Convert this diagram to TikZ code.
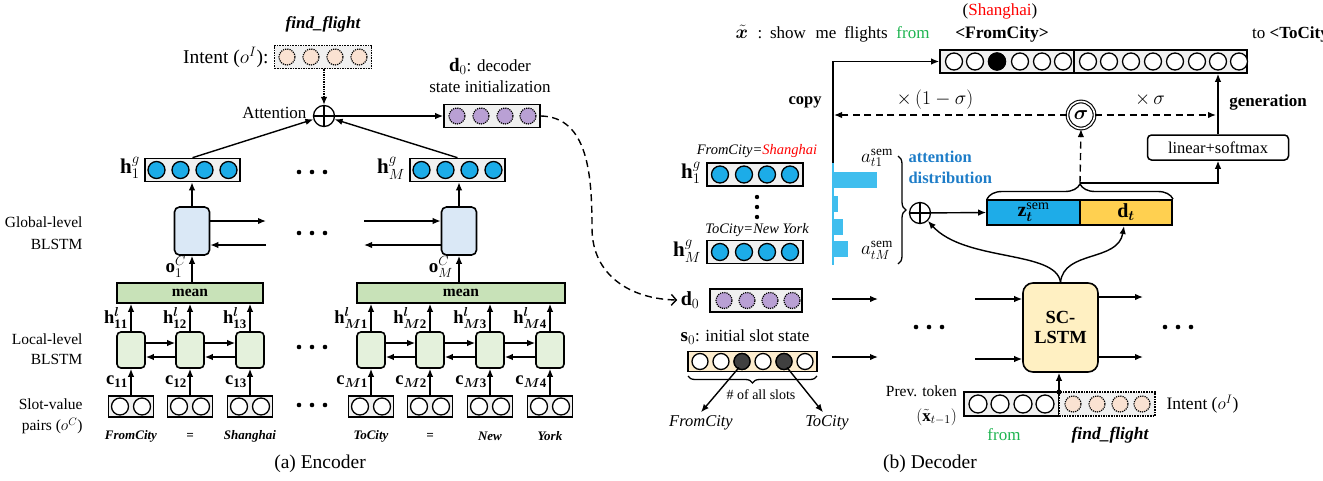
\RequirePackage{fix-cm}
\documentclass[tikz,border=0pt]{standalone}
\usepackage{fontspec}
\setmainfont{Liberation Serif}
\usepackage{amsmath,bm}
\usetikzlibrary{arrows.meta,decorations.pathreplacing,calc}
\definecolor{vecgray}{RGB}{240,240,240}
\definecolor{ballblue}{RGB}{28,172,232}
\definecolor{peach}{RGB}{250,226,210}
\definecolor{violetb}{RGB}{185,160,212}
\definecolor{globfill}{RGB}{218,232,246}
\definecolor{meanfill}{RGB}{200,226,184}
\definecolor{locfill}{RGB}{228,241,220}
\definecolor{zblue}{RGB}{30,172,232}
\definecolor{dyellow}{RGB}{255,208,80}
\definecolor{lstmfill}{RGB}{255,240,194}
\definecolor{sfill}{RGB}{252,236,205}
\definecolor{attblue}{RGB}{30,125,200}
\definecolor{barblue}{RGB}{64,190,238}
\definecolor{txtgreen}{RGB}{30,180,80}
\definecolor{darkball}{RGB}{64,64,64}
\newcommand\myfs[1]{\fontsize{#1}{#1}\selectfont}
\begin{document}
\begin{tikzpicture}[x=1pt,y=-1pt,
  vbox/.style={draw, line width=1.6pt, fill=vecgray, minimum height=23pt, inner sep=0pt},
  ballB/.style={circle, draw, line width=1.3pt, fill=ballblue, minimum size=17pt, inner sep=0pt},
  ballW/.style={circle, draw, line width=1.3pt, fill=white, minimum size=17pt, inner sep=0pt},
  ballK/.style={circle, draw, line width=1.3pt, fill=black, minimum size=17pt, inner sep=0pt},
  ballP/.style={circle, draw, densely dotted, line width=1.2pt, fill=peach, minimum size=16pt, inner sep=0pt},
  ballV/.style={circle, draw, densely dotted, line width=1.2pt, fill=violetb, minimum size=16pt, inner sep=0pt},
  arr/.style={-{Latex[length=8pt,width=6.5pt]}, line width=1.4pt},
  dsh/.style={dash pattern=on 7pt off 4.5pt},
  plusn/.style={circle, draw, line width=1.3pt, minimum size=21pt, inner sep=0pt,
    path picture={\draw[line width=1.3pt] (path picture bounding box.north) -- (path picture bounding box.south)
      (path picture bounding box.west) -- (path picture bounding box.east);}},
  gblk/.style={draw, line width=1.6pt, rounded corners=5pt, fill=globfill, minimum width=35pt, minimum height=48pt, inner sep=0pt},
  lblk/.style={draw, line width=1.6pt, rounded corners=4pt, fill=locfill, minimum width=28pt, minimum height=36pt, inner sep=0pt},
  meanb/.style={draw, line width=1.6pt, fill=meanfill, minimum height=20pt, inner sep=0pt, font=\myfs{15.5}\bfseries},
  sbox/.style={draw, line width=1.6pt, fill=vecgray, minimum width=45pt, minimum height=21pt, inner sep=0pt},
  ballS/.style={circle, draw, line width=1.3pt, fill=white, minimum size=17pt, inner sep=0pt},
  lab/.style={font=\myfs{17}},
  side/.style={font=\myfs{15.5}, anchor=east},
  word/.style={font=\myfs{13}\bfseries\itshape},
  sent/.style={anchor=base, font=\myfs{17}, inner sep=0pt},
  hdots/.pic={\foreach \dx in {-13,0,13} \fill (\dx,0) circle (2.3pt);}
]
\useasboundingbox (0,0) rectangle (1323,480);

%% ================= ENCODER =================
\node[font=\myfs{17}\bfseries\itshape] (ffE) at (323,24) {find\_flight};
\node[vbox, densely dotted, minimum width=97pt] (intE) at (323,57) {};
\foreach \x [count=\i] in {287,311,335,359} \node[ballP] (intE-\i) at (\x,57) {};
\node[anchor=east, font=\myfs{19.5}] (intEl) at (272,57) {Intent ($o^I$):};
\node[plusn] (att) at (324,116) {};
\draw[arr, densely dotted] (intE.south -| att) -- (att.north);
\node[anchor=east, lab] (attl) at (310,113) {Attention};
\node[vbox, minimum width=96pt] (d0E) at (492,116) {};
\foreach \x [count=\i] in {457,481,505,528} \node[ballV] (d0E-\i) at (\x,116) {};
\draw[arr] (att) -- (d0E);
\node[lab] (d0El1) at (490,66) {\myfs{19}$\mathbf{d}_0$\myfs{17}: decoder};
\node[lab] (d0El2) at (490,87) {state initialization};

\node[vbox, minimum width=95pt] (h1E) at (192.5,170) {};
\foreach \x [count=\i] in {156.5,180.5,204.5,228.5} \node[ballB] (h1E-\i) at (\x,170) {};
\node[vbox, minimum width=95pt] (hME) at (457.5,170) {};
\foreach \x [count=\i] in {421.5,445.5,469.5,493.5} \node[ballB] (hME-\i) at (\x,170) {};
\node[anchor=east, font=\myfs{21}, inner sep=1pt] (h1El) at (141,168) {$\mathbf{h}^g_1$};
\node[anchor=east, font=\myfs{21}, inner sep=1pt] (hMEl) at (406,168) {$\mathbf{h}^g_M$};
\draw[arr] (h1E.north) -- (att);
\draw[arr] (hME.north) -- (att);
\pic at (312,172) {hdots};

\node[gblk] (g1) at (192,231) {};
\node[gblk] (gM) at (459,231) {};
\draw[arr] (g1.north) -- (g1.north |- h1E.south);
\draw[arr] (gM.north) -- (gM.north |- hME.south);
\coordinate (gr1) at (266,221);
\coordinate (gl1) at (266,245);
\coordinate (gr2) at (364,221);
\coordinate (gl2) at (364,245);
\draw[arr] (g1.east |- gr1) -- (gr1);
\draw[arr] (gl1) -- (g1.east |- gl1);
\draw[arr] (gr2) -- (gM.west |- gr2);
\draw[arr] (gM.west |- gl2) -- (gl2);
\pic at (312,233) {hdots};
\node[side] (glab1) at (86,222) {Global-level};
\node[side] (glab2) at (86,244) {BLSTM};

\node[meanb, minimum width=146pt] (mean1) at (190,293) {mean};
\node[meanb, minimum width=208pt] (meanM) at (461,293) {mean};
\draw[arr] (mean1.north -| g1) -- (g1.south);
\draw[arr] (meanM.north -| gM) -- (gM.south);
\node[anchor=east, font=\myfs{19}, inner sep=1pt] (oc1) at (187,267) {$\mathbf{o}^{C}_1$};
\node[anchor=east, font=\myfs{19}, inner sep=1pt] (ocM) at (454,267) {$\mathbf{o}^{C}_M$};

\foreach \qa/\qb/\qc/\qd/\qm in {L1/131/{\mathbf{11}}/FromCity/mean1, L2/190/{\mathbf{12}}/=/mean1, L3/250/{\mathbf{13}}/Shanghai/mean1,
  M1/371/{\bm{M}\mathbf{1}}/ToCity/meanM, M2/430/{\bm{M}\mathbf{2}}/=/meanM, M3/490/{\bm{M}\mathbf{3}}/New/meanM, M4/550/{\bm{M}\mathbf{4}}/York/meanM} {
  \node[lblk] (\qa) at (\qb,350) {};
  \node[sbox] (S\qa) at (\qb,406.5) {};
  \node[ballS] (S\qa-a) at (\qb-11,406.5) {};
  \node[ballS] (S\qa-b) at (\qb+11,406.5) {};
  \draw[arr] (S\qa.north) -- (\qa.south);
  \draw[arr] (\qa.north) -- (\qa.north |- \qm.south);
  \node[anchor=east, font=\myfs{18.5}, inner sep=1pt] (hl\qa) at (\qb-2,318) {$\mathbf{h}^{\bm{l}}_{\qc}$};
  \node[anchor=east, font=\myfs{18.5}, inner sep=1pt] (cl\qa) at (\qb-2,382) {$\bm{\mathrm{c}}_{\qc}$};
  \node[word] (w\qa) at (\qb,436) {\qd};
}
\foreach \qa/\qb in {L1/L2, L2/L3, M1/M2, M2/M3, M3/M4} {
  \draw[arr] ([yshift=7pt]\qa.east) -- ([yshift=7pt]\qb.west);
  \draw[arr] ([yshift=-7pt]\qb.west) -- ([yshift=-7pt]\qa.east);
}
\pic at (312,347) {hdots};
\pic at (312,405) {hdots};
\node[side] (llab1) at (86,339) {Local-level};
\node[side] (llab2) at (86,359) {BLSTM};
\node[side] (slab1) at (86,404) {Slot-value};
\node[side] (slab2) at (86,426) {pairs ($o^C$)};
\node[font=\myfs{19.5}] (capA) at (320,464) {(a) Encoder};

%% ================= DECODER =================
\node[sent] (shg) at (1000,15) {(\textcolor{red}{Shanghai})};
\node[sent, font=\myfs{19}] (xt) at (742,38) {$\tilde{\bm{x}}$};
\node[sent] (xtc) at (760,38) {:};
\node[sent] (sw1) at (788,38) {show};
\node[sent] (sw2) at (826,38) {me};
\node[sent] (sw3) at (866,38) {flights};
\node[sent, text=txtgreen] (sw4) at (913,38) {from};
\node[sent, font=\myfs{17.5}\bfseries] (sw5) at (1002,38) {<FromCity>};
\node[sent, anchor=base west] (sw6) at (1252,38) {to \textbf{<ToCity>}};

\node[vbox, minimum width=134pt] (outL) at (1007,61.5) {};
\node[vbox, minimum width=173pt] (outR) at (1160.5,61.5) {};
\foreach \x [count=\i] in {954,975,997,1020,1042,1063} \node[ballW] (outL-\i) at (\x,61.5) {};
\node[ballK] (outLk) at (997,61.5) {};
\foreach \x [count=\i] in {1088,1109,1131,1153,1175,1197,1218,1239} \node[ballW] (outR-\i) at (\x,61.5) {};

\coordinate (cp) at (833,163);
\draw[arr] (cp) -- (cp |- outL.west) -- (outL.west);
\node[font=\myfs{16.5}\bfseries] (copyl) at (805,102) {copy};
\node[circle, draw, double, double distance=1.6pt, line width=1.1pt, minimum size=27pt, inner sep=0pt, font=\myfs{20}] (sig) at (1081,115) {$\bm{\sigma}$};
\coordinate (cpd) at (834,115);
\coordinate (gen) at (1216,115);
\draw[arr, dsh] (sig.west) -- (cpd);
\draw[arr, dsh] (sig.east) -- (gen);
\node[font=\myfs{19.5}] (oms) at (935,100) {$\times\,(1-\sigma)$};
\node[font=\myfs{19.5}] (ms) at (1150,100) {$\times\,\sigma$};
\node[font=\myfs{17}\bfseries] (genl) at (1268,102) {generation};
\node[draw, line width=1.5pt, rounded corners=4pt, minimum width=141pt, minimum height=25pt, inner sep=0pt, font=\myfs{16.5}] (lin) at (1218,147.5) {linear+softmax};
\draw[arr] (lin.north) -- (lin.north |- outR.south);

\node[draw, line width=1.6pt, fill=zblue, minimum width=93pt, minimum height=25pt, inner sep=0pt, font=\myfs{20}] (zt) at (1033.5,212.5) {$\mathbf{z}^{\mathrm{sem}}_{\bm t}$};
\node[draw, line width=1.6pt, fill=dyellow, minimum width=92pt, minimum height=25pt, inner sep=0pt, font=\myfs{20}] (dt) at (1126,212.5) {$\mathbf{d}_{\bm t}$};
\draw[decorate, decoration={brace, amplitude=15pt}, line width=1.4pt] (987,199) -- (1173,199);
\coordinate (bt) at (1080,183);
\draw[arr, dsh] (bt) -- (sig.south);
\draw[arr] (bt) -- (bt -| lin.south) -- (lin.south);

\node[plusn] (pd) at (920,213) {};
\draw[arr] (pd) -- (zt.west);
\node[anchor=west, font=\myfs{16.5}\bfseries, text=attblue] (atl1) at (905,157) {attention};
\node[anchor=west, font=\myfs{16.5}\bfseries, text=attblue] (atl2) at (905,178) {distribution};
\draw[decorate, decoration={brace, amplitude=8pt}, line width=1.3pt] (898,156) -- (898,264);
\node[font=\myfs{19}, inner sep=0pt] (at1) at (877,158) {$a^{\mathrm{sem}}_{t1}$};
\node[font=\myfs{19}, inner sep=0pt] (atM) at (877,250) {$a^{\mathrm{sem}}_{tM}$};

\fill[barblue] (833,172) rectangle (877,188);
\fill[barblue] (833,196) rectangle (838,212);
\fill[barblue] (833,219) rectangle (843,235);
\fill[barblue] (833,241) rectangle (848,257);
\draw[barblue, line width=2pt] (cp) -- (833,265);

\node[font=\myfs{14.5}\itshape] (fcs) at (757,151) {FromCity=\textcolor{red}{Shanghai}};
\node[vbox, minimum width=96pt] (h1D) at (755,174.5) {};
\foreach \x [count=\i] in {720,744,767,790} \node[ballB] (h1D-\i) at (\x,174.5) {};
\foreach \y in {197,207,217} \fill (757,\y) circle (2.2pt);
\node[font=\myfs{14.5}\itshape] (tcn) at (757,230) {ToCity=New York};
\node[vbox, minimum width=96pt] (hMD) at (755,252) {};
\foreach \x [count=\i] in {720,744,767,790} \node[ballB] (hMD-\i) at (\x,252) {};
\node[anchor=east, font=\myfs{21}, inner sep=1pt] (h1Dl) at (702,173) {$\mathbf{h}^g_1$};
\node[anchor=east, font=\myfs{21}, inner sep=1pt] (hMDl) at (702,251) {$\mathbf{h}^g_M$};

\node[vbox, minimum width=92pt] (d0D) at (756,300.5) {};
\foreach \x [count=\i] in {724,747,770,792} \node[ballV] (d0D-\i) at (\x,300.5) {};
\node[font=\myfs{20}] (d0Dl) at (690,300) {$\mathbf{d}_0$};
\draw[dsh, line width=1.4pt, -{Straight Barb[length=5pt,width=11pt]}] (d0E.east) .. controls (588,117) and (592,175) .. (592,228) .. controls (592,275) and (630,299) .. (d0Dl.west);

\node[font=\myfs{17}] (s0l) at (745,337) {\myfs{19}$\mathbf{s}_0$\myfs{17}: initial slot state};
\node[draw, line width=1.6pt, fill=sfill, minimum width=129pt, minimum height=20pt, inner sep=0pt] (s0) at (752.5,361.5) {};
\foreach \x/\st [count=\i] in {700/ballS,721/ballS,742/ballK,763/ballS,784/ballK,805/ballS} \node[\st, minimum size=16pt] (s0-\i) at (\x,361.5) {};
\node[circle, fill=darkball, draw, line width=1.3pt, minimum size=16pt, inner sep=0pt] (s0d3) at (742,361.5) {};
\node[circle, fill=darkball, draw, line width=1.3pt, minimum size=16pt, inner sep=0pt] (s0d5) at (784,361.5) {};
\draw[decorate, decoration={brace, amplitude=7pt}, line width=1.3pt] (817,376) -- (688,376);
\node[font=\myfs{14}] (nos) at (761,395) {\# of all slots};
\node[font=\myfs{16.5}\itshape] (fcw) at (701,423) {FromCity};
\node[font=\myfs{16.5}\itshape] (tcw) at (827,423) {ToCity};
\draw[arr] (s0d3.center) ++(-3pt,-6pt) -- (fcw.north -| 701,0);
\draw[arr] (s0d5.center) ++(3pt,-6pt) -- (tcw.north -| 823,0);

\coordinate (a1s) at (832,299); \coordinate (a1e) at (878,299);
\coordinate (a2s) at (832,357); \coordinate (a2e) at (878,357);
\draw[arr] (a1s) -- (a1e);
\draw[arr] (a2s) -- (a2e);
\pic at (929,327) {hdots};

\node[draw, line width=1.6pt, rounded corners=10pt, fill=lstmfill, minimum width=75pt, minimum height=89pt, inner sep=0pt, align=center, font=\myfs{18.5}\bfseries] (lstm) at (1060.5,327.5) {SC-\\[2pt]LSTM};
\coordinate (li1) at (975,299); \coordinate (li2) at (975,359);
\coordinate (lo1) at (1143,297); \coordinate (lo2) at (1143,357);
\draw[arr] (li1) -- (li1 -| lstm.west);
\draw[arr] (li2) -- (li2 -| lstm.west);
\draw[arr] (lo1 -| lstm.east) -- (lo1);
\draw[arr] (lo2 -| lstm.east) -- (lo2);
\pic at (1178,327) {hdots};
\draw[arr] (lstm.north) .. controls (1056,250) and (965,262) .. (pd.south east);
\draw[arr] (lstm.north) .. controls (1064,250) and (1118,262) .. (1124,226);

\node[vbox, minimum width=95pt, minimum height=24pt] (prev) at (1011.5,404) {};
\foreach \x [count=\i] in {978,1000,1023,1045} \node[ballS, minimum size=18pt] (prev-\i) at (\x,404) {};
\node[vbox, densely dotted, minimum width=96pt, minimum height=24pt] (intD) at (1107,404) {};
\foreach \x [count=\i] in {1073,1097,1120,1142} \node[ballP] (intD-\i) at (\x,404) {};
\coordinate (jn) at (1059,392);
\fill (jn) circle (2.6pt);
\draw[arr] (jn) -- (jn |- lstm.south);
\node[anchor=east, font=\myfs{15.5}, inner sep=0pt] (ptl1) at (957,391) {Prev. token};
\node[anchor=east, font=\myfs{17}, inner sep=0pt] (ptl2) at (957,417) {$(\tilde{\mathbf{x}}_{t-1})$};
\node[anchor=west, font=\myfs{17.5}] (intDl) at (1163,404) {Intent ($o^I$)};
\node[font=\myfs{17}, text=txtgreen] (frw) at (1004,435) {from};
\node[font=\myfs{17.5}\bfseries\itshape] (ffD) at (1110,435) {find\_flight};
\node[font=\myfs{19.5}] (capB) at (930,464) {(b) Decoder};
\end{tikzpicture}
\end{document}
